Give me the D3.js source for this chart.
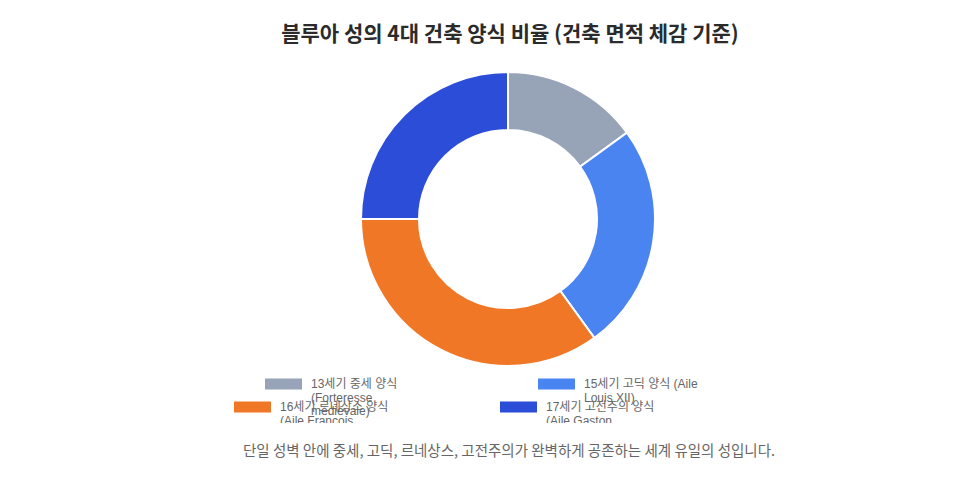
<!DOCTYPE html>
<html>
<head>
<meta charset="utf-8">
<script src="https://cdn.jsdelivr.net/npm/d3@7"></script>
<style>
  body { margin: 0; background: #fff; }
  svg { display: block; }
</style>
</head>
<body>
<svg id="chart" width="975" height="483"></svg>
<script>
// 데이터
const titleText = "블루아 성의 4대 건축 양식 비율 (건축 면적 체감 기준)";
const footText = "단일 성벽 안에 중세, 고딕, 르네상스, 고전주의가 완벽하게 공존하는 세계 유일의 성입니다.";
const styles = ["13세기 중세 양식", "15세기 고딕 양식", "16세기 르네상스 양식", "17세기 고전주의 양식"];
const wings = ["(Forteresse médiévale)", "(Aile Louis XII)", "(Aile François Ier)", "(Aile Gaston d'Orléans)"];
const shares = [15, 25, 35, 25];
const colors = ["#97a3b7", "#4a84f1", "#f07725", "#2c4dd7"];
// 범례 줄바꿈 (원본 그대로)
const legendLines = [
  ["13세기 중세 양식", "(Forteresse", "médiévale)"],
  ["15세기 고딕 양식 (Aile", "Louis XII)"],
  ["16세기 르네상스 양식", "(Aile François", "Ier)"],
  ["17세기 고전주의 양식", "(Aile Gaston", "d'Orléans)"]
];

const svg = d3.select("#chart");
const cx = 508, cy = 219, outerR = 147, innerR = 89;

svg.append("text")
  .attr("x", 510).attr("y", 41)
  .attr("text-anchor", "middle")
  .attr("font-family", "'Noto Sans CJK KR', sans-serif")
  .attr("font-weight", "bold")
  .attr("font-size", 21)
  .attr("fill", "#2b2b2b")
  .text(titleText);

// 도넛
const pie = d3.pie().sort(null).value(d => d)(shares);
const arc = d3.arc().innerRadius(innerR).outerRadius(outerR);

svg.append("g")
  .attr("transform", `translate(${cx},${cy})`)
  .selectAll("path")
  .data(pie)
  .enter()
  .append("path")
  .attr("d", arc)
  .attr("fill", (d, i) => colors[i])
  .attr("stroke", "#fff")
  .attr("stroke-width", 2);

// 범례 (아래쪽이 잘림)
svg.append("clipPath").attr("id", "legendClip")
  .append("rect").attr("x", 0).attr("y", 370).attr("width", 975).attr("height", 53);

const legendPos = [[265, 384], [538, 384], [234, 407], [500, 407]];
const legend = svg.append("g").attr("clip-path", "url(#legendClip)");

legendLines.forEach((lines, i) => {
  const [lx, ly] = legendPos[i];
  legend.append("rect")
    .attr("x", lx).attr("y", ly - 5.5)
    .attr("width", 37).attr("height", 11)
    .attr("fill", colors[i]);
  const t = legend.append("text")
    .attr("font-family", "'Liberation Sans', 'Noto Sans CJK KR', sans-serif")
    .attr("font-size", 12)
    .attr("fill", "#666");
  lines.forEach((s, j) => {
    t.append("tspan")
      .attr("x", lx + 46)
      .attr("y", ly + 4 + j * 13.5)
      .text(s);
  });
});

svg.append("text")
  .attr("x", 509).attr("y", 456)
  .attr("text-anchor", "middle")
  .attr("font-family", "'Noto Sans CJK KR', sans-serif")
  .attr("font-size", 14.5)
  .attr("fill", "#666")
  .text(footText);
</script>
</body>
</html>
